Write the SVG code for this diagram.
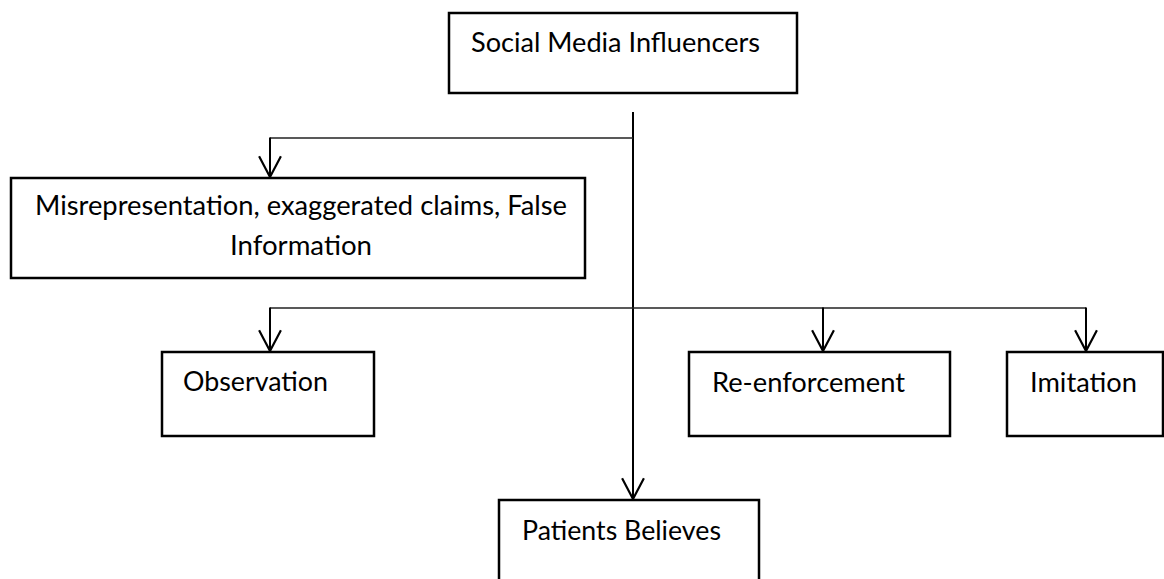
<svg xmlns="http://www.w3.org/2000/svg" width="1164" height="579" viewBox="0 0 1164 579">
<defs>
<marker id="arr" markerWidth="24" markerHeight="24" refX="11" refY="20" viewBox="0 0 22 22" markerUnits="userSpaceOnUse" orient="0">
<path d="M1,1 L11,20 L21,1" fill="none" stroke="#000" stroke-width="2"/>
</marker>
<style>
.box{fill:#fff;stroke:#000;stroke-width:2.5}
.lbl{font-family:Lato,"Liberation Sans",Arial,sans-serif;font-size:27px;fill:#000}
.con{fill:none;stroke:#000;stroke-width:2}
.hl{fill:none;stroke:#222;stroke-width:1.5}
</style>
</defs>
<rect width="1164" height="579" fill="#fff"/>
<g id="connectors">
<line class="con" x1="633" y1="112" x2="633" y2="499" marker-end="url(#arr)"/>
<line class="hl" x1="633" y1="138" x2="270" y2="138"/>
<line class="con" x1="270" y1="137.5" x2="270" y2="177" marker-end="url(#arr)"/>
<line class="hl" x1="270" y1="308" x2="1086" y2="308"/>
<line class="con" x1="270" y1="307.5" x2="270" y2="351" marker-end="url(#arr)"/>
<line class="con" x1="823" y1="307.5" x2="823" y2="351" marker-end="url(#arr)"/>
<line class="con" x1="1086" y1="307.5" x2="1086" y2="351" marker-end="url(#arr)"/>
</g>
<g id="social">
<rect class="box" x="449" y="13" width="348" height="80"/>
<text class="lbl" x="471" y="52" textLength="289" lengthAdjust="spacingAndGlyphs">Social Media Influencers</text>
</g>
<g id="misrep">
<rect class="box" x="11" y="178" width="574" height="100"/>
<text class="lbl" x="35" y="215" textLength="532" lengthAdjust="spacingAndGlyphs">Misrepresentation, exaggerated claims, False</text>
<text class="lbl" x="230" y="255" textLength="142" lengthAdjust="spacingAndGlyphs">Information</text>
</g>
<g id="observation">
<rect class="box" x="162" y="352" width="212" height="84"/>
<text class="lbl" x="183" y="391" textLength="145" lengthAdjust="spacingAndGlyphs">Observation</text>
</g>
<g id="reenforcement">
<rect class="box" x="689" y="352" width="261" height="84"/>
<text class="lbl" x="712" y="392" textLength="193" lengthAdjust="spacingAndGlyphs">Re-enforcement</text>
</g>
<g id="imitation">
<rect class="box" x="1007" y="352" width="156" height="84"/>
<text class="lbl" x="1030" y="392" textLength="107" lengthAdjust="spacingAndGlyphs">Imitation</text>
</g>
<g id="patients">
<rect class="box" x="499" y="500" width="260" height="90"/>
<text class="lbl" x="522" y="540" textLength="199" lengthAdjust="spacingAndGlyphs">Patients Believes</text>
</g>
</svg>
